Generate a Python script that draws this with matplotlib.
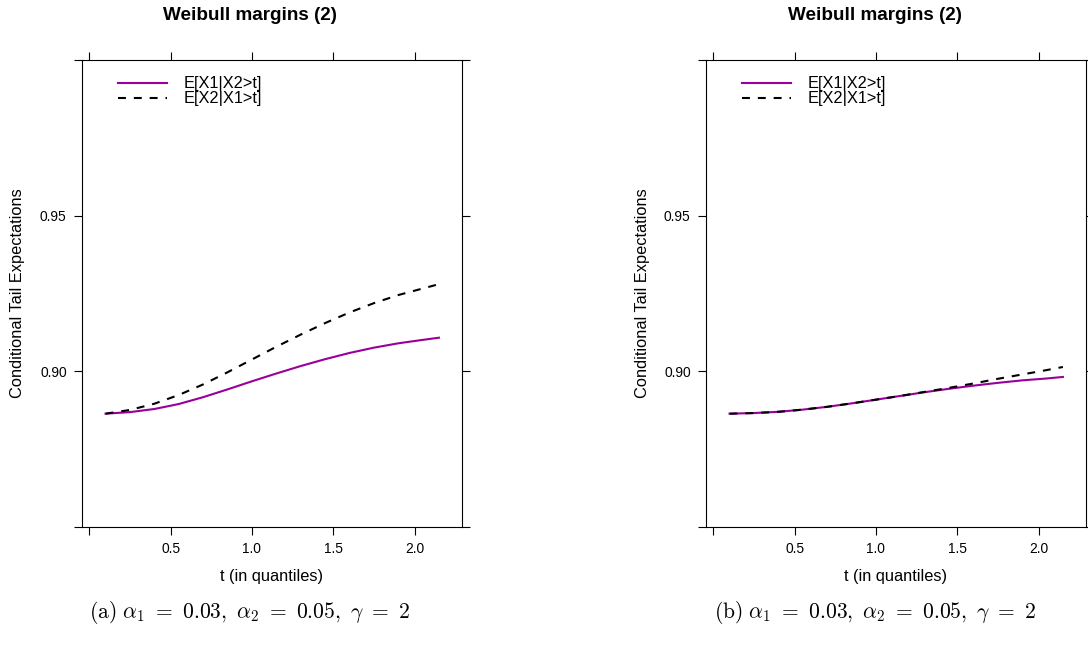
import matplotlib
matplotlib.use("Agg")
import matplotlib.pyplot as plt
import numpy as np

plt.rcParams['font.family'] = ['Liberation Sans', 'DejaVu Sans']
plt.rcParams['mathtext.fontset'] = 'cm'

# ---- data ----
t_vals = [0.1, 0.25, 0.4, 0.55, 0.7, 0.85, 1.0, 1.15, 1.3, 1.45, 1.6, 1.75, 1.9, 2.05, 2.15]

a_x1_given_x2 = [0.8864, 0.8869, 0.8879, 0.8895, 0.8917, 0.8942, 0.8968, 0.8993, 0.9017,
                 0.9039, 0.9059, 0.9076, 0.9090, 0.9101, 0.9108]
a_x2_given_x1 = [0.8864, 0.8876, 0.8896, 0.8924, 0.8958, 0.8997, 0.9038, 0.9079, 0.9118,
                 0.9155, 0.9189, 0.9219, 0.9245, 0.9266, 0.9280]

b_x1_given_x2 = [0.8864, 0.8866, 0.8870, 0.8877, 0.8886, 0.8897, 0.8909, 0.8921, 0.8933,
                 0.8944, 0.8954, 0.8963, 0.8971, 0.8977, 0.8982]
b_x2_given_x1 = [0.8864, 0.8866, 0.8870, 0.8877, 0.8886, 0.8897, 0.8909, 0.8921, 0.8934,
                 0.8947, 0.8961, 0.8976, 0.8990, 0.9004, 0.9014]

legend_labels = ["E[X1|X2>t]", "E[X2|X1>t]"]
titles = ["Weibull margins (2)", "Weibull margins (2)"]
captions = [r"$\mathrm{(a)}\ \alpha_1\ =\ 0.03,\ \alpha_2\ =\ 0.05,\ \gamma\ =\ 2$",
            r"$\mathrm{(b)}\ \alpha_1\ =\ 0.03,\ \alpha_2\ =\ 0.05,\ \gamma\ =\ 2$"]
x_ticks = [0.0, 0.5, 1.0, 1.5, 2.0]
x_ticklabels = ["", "0.5", "1.0", "1.5", "2.0"]
y_ticks = [0.85, 0.90, 0.95, 1.00]
y_ticklabels = ["", "0.90", "0.95", ""]
xlabel = "t (in quantiles)"
ylabel = "Conditional Tail Expectations"

# ---- figure ----
W, H = 1088, 651
fig = plt.figure(figsize=(W / 100, H / 100), dpi=100)

purple = "#990099"
panels = [
    (82, 462, 60, 527, a_x1_given_x2, a_x2_given_x1, 250, 18, 250),
    (706, 1086, 60, 527, b_x1_given_x2, b_x2_given_x1, 875, 642, 875),
]

for i, (x0, x1, ytop, ybot, s1, s2, tcx, ylx, capx) in enumerate(panels):
    ax = fig.add_axes([x0 / W, 1 - ybot / H, (x1 - x0) / W, (ybot - ytop) / H])
    ax.plot(t_vals, s1, color=purple, lw=1.5, label=legend_labels[0])
    ax.plot(t_vals, s2, color="black", lw=1.5, dashes=(3.8, 3.8), label=legend_labels[1])
    ax.set_xlim(-0.045, 2.292)
    ax.set_ylim(0.85, 1.0)
    ax.set_xticks(x_ticks)
    ax.set_xticklabels(x_ticklabels)
    ax.set_yticks(y_ticks)
    ax.set_yticklabels(y_ticklabels)
    ax.tick_params(direction="out", length=6, width=0.8, labelsize=9.9, pad=5,
                   top=True, right=True, colors="black")
    for sp in ax.spines.values():
        sp.set_linewidth(0.8)
        sp.set_color("black")
    ax.set_xlabel(xlabel, fontsize=11.8, labelpad=9)
    fig.text(ylx / W, 1 - 293 / H, ylabel, rotation=90, ha="center", va="center",
             fontsize=11.8)
    fig.text(tcx / W, 1 - 15 / H, titles[i], ha="center", va="center",
             fontsize=13.6, fontweight="bold")
    ax.legend(loc="upper left", bbox_to_anchor=(0.086, 0.972), frameon=False,
              fontsize=11.8, handlelength=3.0, handletextpad=1.0, labelspacing=0.0,
              borderaxespad=0.0, borderpad=0.2)
    fig.text(capx / W, 1 - 613 / H, captions[i], ha="center", va="center", fontsize=15.5)

fig.savefig("out.png", dpi=100)
